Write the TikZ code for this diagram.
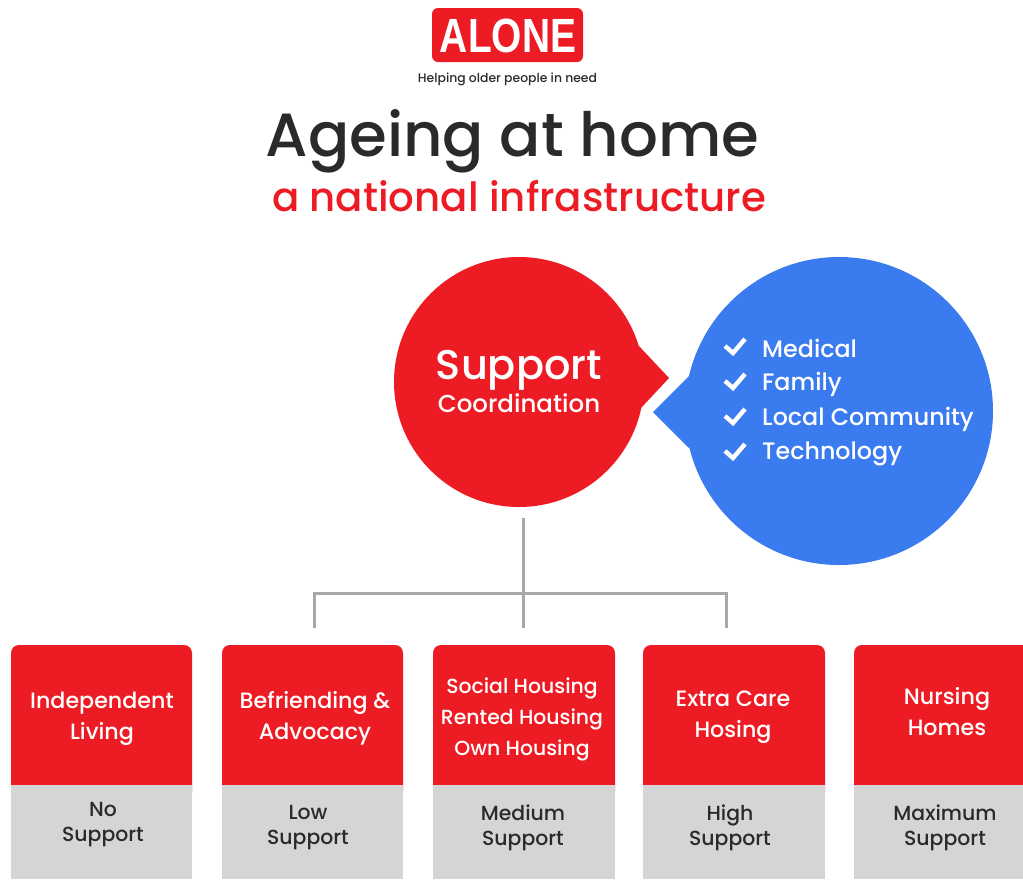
\documentclass[tikz,border=0pt]{standalone}
\usepackage{fontspec}
\setmainfont{Poppins Medium}
\newfontfamily\logofont{Liberation Sans}
\definecolor{brandred}{HTML}{ED1C24}
\definecolor{brandblue}{HTML}{3B7BF0}
\definecolor{tiergray}{HTML}{D5D5D5}
\definecolor{inkdark}{HTML}{2A2A2A}
\definecolor{linegray}{HTML}{A8A8A8}
\tikzset{
  x=1pt,y=-1pt,
  lbl/.style={inner sep=0pt,align=center,anchor=center},
  toptext/.style={lbl,text=white,font=\fontsize{22.2}{31}\selectfont},
  lowtext/.style={lbl,text=inkdark,font=\fontsize{20.4}{25}\selectfont},
  listtext/.style={lbl,anchor=west,text=white,font=\fontsize{23.8}{28}\selectfont},
  tick/.style={draw=white,line width=4.4pt,line join=miter,line cap=butt},
  wire/.style={draw=linegray,line width=3pt},
}
\newcommand{\tierbox}[2]{%
  \fill[brandred,rounded corners=8pt] (#1,645) rectangle (#2,800);
  \fill[tiergray] (#1,785) rectangle (#2,879);
}
\newcommand{\tickmark}[1]{\draw[tick] (725,#1-1) -- (733,#1+6) -- (745,#1-8);}
\begin{document}
\begin{tikzpicture}
\useasboundingbox[fill=white] (0,0) rectangle (1023,879);
% logo
\fill[brandred,rounded corners=6pt] (432,8) rectangle (583,62);
\node[lbl,text=white,font=\logofont\bfseries\fontsize{48}{48}\selectfont,xscale=0.81] (logo) at (508,36) {ALONE};
\node[lbl,text=inkdark,font=\fontsize{12.4}{14}\selectfont] (tagline) at (507.5,79) {Helping older people in need};
% titles
\node[lbl,text=inkdark,font=\fontsize{61}{61}\selectfont] (title) at (512.5,141) {Ageing at home};
\node[lbl,text=brandred,font=\fontsize{40.3}{40}\selectfont] (subtitle) at (519,196) {a national infrastructure};
% bubbles
\fill[brandblue] (839,411) circle (154);
\fill[brandblue] (689,376) -- (653,412) -- (689,448) -- cycle;
\fill[brandred] (519,382) circle (125);
\fill[brandred] (638,345) -- (669,378) -- (641,408) -- cycle;
\node[lbl,text=white,font=\fontsize{41.5}{42}\selectfont] (support) at (519,370) {Support};
\node[lbl,text=white,font=\fontsize{24.5}{25}\selectfont] (coord) at (519,403) {Coordination};
\tickmark{347}\tickmark{382}\tickmark{417}\tickmark{452}
\node[listtext] (medical) at (762,348) {Medical};
\node[listtext] (family) at (762,384) {Family};
\node[listtext] (local) at (762,419) {Local Community};
\node[listtext] (tech) at (762,454) {Technology};
% tiers
\tierbox{11}{192}\tierbox{222}{403}\tierbox{433}{615}\tierbox{643}{825}\tierbox{854}{1035}
\node[toptext] (t1) at (102,719) {Independent\\Living};
\node[toptext] (t2) at (315,718) {Befriending \&\\Advocacy};
\node[toptext,font=\fontsize{20.4}{31}\selectfont] (t3) at (522,719) {Social Housing\\Rented Housing\\Own Housing};
\node[toptext] (t4) at (733,717) {Extra Care\\Hosing};
\node[toptext] (t5) at (947,712) {Nursing\\Homes};
\node[lowtext] (b1) at (103,825) {No\\Support};
\node[lowtext] (b2) at (308,828) {Low\\Support};
\node[lowtext] (b3) at (523,828) {Medium\\Support};
\node[lowtext] (b4) at (730,828) {High\\Support};
\node[lowtext] (b5) at (945,828) {Maximum\\Support};
% connectors
\coordinate (stem) at (523,518);
\coordinate (bus) at (523,593);
\coordinate (d2) at (314,628);
\coordinate (d3) at (523,628);
\coordinate (d4) at (726,628);
\draw[wire] (stem) -- (d3);
\draw[wire] (d2) |- (bus) -| (d4);
\end{tikzpicture}
\end{document}
